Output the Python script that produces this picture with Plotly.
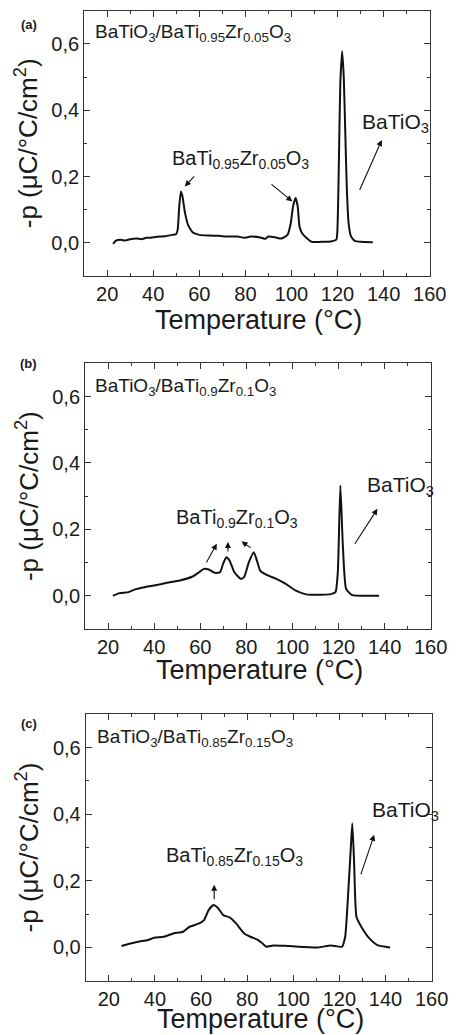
import plotly.graph_objects as go

# ---------------- data ----------------
# Panel (a): BaTiO3/BaTi0.95Zr0.05O3
xa = [22.6, 23.7, 25.8, 27.9, 30.0, 32.8, 34.9, 37.0, 39.7, 42.5, 45.3, 48.1, 49.9,
      50.6, 51.3, 52.0, 52.7, 53.7, 55.1, 57.2, 60.0, 64.2, 68.3, 72.5, 76.7, 79.5,
      82.3, 86.5, 88.6, 90.0, 92.8, 95.5, 98.3, 99.7, 100.7, 101.8, 102.7, 103.5,
      104.6, 106.7, 108.8, 113.0, 117.2, 119.5, 120.0, 120.6, 121.2, 122.0, 122.7,
      123.3, 124.0, 124.8, 125.8, 127.5, 130.0, 135.3]
ya = [-0.003, 0.006, 0.009, 0.007, 0.011, 0.013, 0.011, 0.015, 0.016, 0.019, 0.020,
      0.024, 0.026, 0.039, 0.110, 0.155, 0.140, 0.094, 0.054, 0.031, 0.024, 0.022,
      0.021, 0.019, 0.019, 0.015, 0.019, 0.016, 0.012, 0.019, 0.017, 0.013, 0.024,
      0.059, 0.110, 0.135, 0.110, 0.049, 0.029, 0.014, 0.003, 0.003, 0.004, 0.010,
      0.050, 0.250, 0.480, 0.578, 0.500, 0.350, 0.170, 0.060, 0.020, 0.006, 0.003,
      0.002]

# Panel (b): BaTiO3/BaTi0.9Zr0.1O3
xb = [22.1, 25.0, 28.8, 32.0, 35.8, 40.0, 45.5, 51.1, 56.7, 59.5, 61.6, 63.7, 66.5,
      68.6, 69.9, 71.3, 72.7, 74.8, 77.6, 79.0, 81.1, 83.2, 84.6, 86.0, 88.8, 93.0,
      97.1, 101.3, 105.5, 108.3, 116.7, 118.7, 119.7, 120.8, 121.9, 123.3, 125.7,
      137.6]
yb = [0.000, 0.008, 0.011, 0.020, 0.026, 0.031, 0.039, 0.046, 0.058, 0.071, 0.081,
      0.079, 0.069, 0.071, 0.096, 0.116, 0.106, 0.071, 0.051, 0.056, 0.101, 0.131,
      0.106, 0.076, 0.063, 0.051, 0.036, 0.016, 0.005, 0.003, 0.005, 0.011, 0.071,
      0.332, 0.150, 0.021, 0.003, 0.000]

# Panel (c): BaTiO3/BaTi0.85Zr0.15O3
xc = [25.5, 28.5, 32.7, 36.9, 39.7, 43.8, 48.0, 52.2, 55.0, 59.2, 61.3, 63.3, 65.4,
      67.5, 69.6, 72.4, 75.2, 78.7, 81.4, 84.2, 86.3, 88.4, 91.2, 98.2, 110.7, 116.3,
      121.1, 122.5, 123.9, 124.9, 125.6, 126.4, 127.4, 129.5, 133.0, 136.5, 142.0]
yc = [0.004, 0.010, 0.017, 0.022, 0.029, 0.032, 0.042, 0.047, 0.062, 0.072, 0.082,
      0.112, 0.127, 0.117, 0.097, 0.090, 0.072, 0.042, 0.032, 0.024, 0.014, 0.002,
      0.006, 0.004, 0.000, 0.006, 0.002, 0.032, 0.173, 0.293, 0.373, 0.253, 0.092,
      0.062, 0.027, 0.007, 0.000]

panel_letters = ["(a)", "(b)", "(c)"]
panel_titles = [
    "BaTiO<sub>3</sub>/BaTi<sub>0.95</sub>Zr<sub>0.05</sub>O<sub>3</sub>",
    "BaTiO<sub>3</sub>/BaTi<sub>0.9</sub>Zr<sub>0.1</sub>O<sub>3</sub>",
    "BaTiO<sub>3</sub>/BaTi<sub>0.85</sub>Zr<sub>0.15</sub>O<sub>3</sub>",
]
zr_labels = [
    "BaTi<sub>0.95</sub>Zr<sub>0.05</sub>O<sub>3</sub>",
    "BaTi<sub>0.9</sub>Zr<sub>0.1</sub>O<sub>3</sub>",
    "BaTi<sub>0.85</sub>Zr<sub>0.15</sub>O<sub>3</sub>",
]
bt_label = "BaTiO<sub>3</sub>"
x_title = "Temperature (°C)"
y_title = "-p (μC/°C/cm<sup>2</sup>)"

# label positions (data coords, left edge) and arrows (head x, head y, tail x, tail y)
title_pos = [(13.9, 0.632), (13.5, 0.628), (13.9, 0.630)]
zr_label_pos = [(47.3, 0.252), (48.4, 0.232), (43.9, 0.272)]
bt_label_pos = [(129.6, 0.362), (131.4, 0.330), (133.2, 0.410)]
arrows = [
    [(53.7, 0.170, 58.4, 0.205), (100.4, 0.125, 90.7, 0.180), (139.2, 0.310, 129.3, 0.155)],
    [(67.2, 0.157, 62.3, 0.096), (72.0, 0.162, 72.0, 0.129), (77.9, 0.164, 82.5, 0.141),
     (136.9, 0.262, 126.7, 0.152)],
    [(65.7, 0.188, 65.7, 0.140), (135.1, 0.338, 129.1, 0.215)],
]

xs = [xa, xb, xc]
ys = [ya, yb, yc]

# ---------------- layout geometry ----------------
W, H = 465, 1035
xdoms = [(87.3, 446.0), (88.3, 447.0), (89.0, 448.0)]
ydoms = [(10.7, 276.0), (363.3, 629.0), (714.3, 980.7)]
letter_pos = [(30, 25), (30, 363), (30, 723)]
xtitle_y = [320.0, 669.5, 1018.5]   # pixel centre of the x-axis title

FONT = "Liberation Sans, Arial, sans-serif"
TXT = "#1a1a1a"
AX = "#333333"

fig = go.Figure()
layout = dict(
    width=W, height=H,
    margin=dict(l=0, r=0, t=0, b=0),
    paper_bgcolor="white", plot_bgcolor="white",
    showlegend=False,
    separators=",.",
    font=dict(family=FONT, color=TXT),
)
annotations = []

for i in range(3):
    n = "" if i == 0 else str(i + 1)
    xname, yname = "x" + n, "y" + n
    fig.add_trace(go.Scatter(x=xs[i], y=ys[i], mode="lines",
                             line=dict(color="#111111", width=2, shape="spline", smoothing=0.5),
                             xaxis=xname, yaxis=yname, hoverinfo="skip"))
    x0, x1 = xdoms[i]
    y0, y1 = ydoms[i]
    layout["xaxis" + n] = dict(
        domain=[x0 / W, x1 / W], anchor=yname, range=[10, 160],
        tick0=0, dtick=20, ticks="inside", ticklen=6, tickwidth=1, tickcolor=AX,
        minor=dict(dtick=10, ticks="inside", ticklen=3, tickwidth=1, tickcolor=AX),
        showline=True, linecolor=AX, linewidth=1, mirror="ticks",
        showgrid=False, zeroline=False,
        tickfont=dict(size=20, family=FONT, color=TXT),
    )
    layout["yaxis" + n] = dict(
        domain=[1 - y1 / H, 1 - y0 / H], anchor=xname, range=[-0.1, 0.7],
        tick0=0, dtick=0.2, tickformat=".1f",
        ticks="inside", ticklen=6, tickwidth=1, tickcolor=AX,
        minor=dict(dtick=0.1, ticks="inside", ticklen=3, tickwidth=1, tickcolor=AX),
        showline=True, linecolor=AX, linewidth=1, mirror="ticks",
        showgrid=False, zeroline=False,
        tickfont=dict(size=20, family=FONT, color=TXT),
        title=dict(text=y_title, font=dict(size=26, family=FONT, color=TXT), standoff=6),
    )
    # x-axis title
    annotations.append(dict(text=x_title, xref="paper", yref="paper",
                            x=(x0 + x1) / 2 / W + 0.004, y=1 - xtitle_y[i] / H,
                            xanchor="center", yanchor="middle", showarrow=False,
                            font=dict(size=27, family=FONT, color=TXT)))
    # panel letter
    lx, ly = letter_pos[i]
    annotations.append(dict(text="<b>%s</b>" % panel_letters[i], xref="paper", yref="paper",
                            x=lx / W, y=1 - ly / H, xanchor="center", yanchor="middle",
                            showarrow=False, font=dict(size=13, family=FONT, color=TXT)))
    # panel title
    tx, ty = title_pos[i]
    annotations.append(dict(text=panel_titles[i], xref=xname, yref=yname, x=tx, y=ty,
                            xanchor="left", yanchor="middle", showarrow=False,
                            font=dict(size=19, family=FONT, color=TXT)))
    # Zr phase label
    zx, zy = zr_label_pos[i]
    annotations.append(dict(text=zr_labels[i], xref=xname, yref=yname, x=zx, y=zy,
                            xanchor="left", yanchor="middle", showarrow=False,
                            font=dict(size=20, family=FONT, color=TXT)))
    # BaTiO3 label
    bx, by = bt_label_pos[i]
    annotations.append(dict(text=bt_label, xref=xname, yref=yname, x=bx, y=by,
                            xanchor="left", yanchor="middle", showarrow=False,
                            font=dict(size=21, family=FONT, color=TXT)))
    # arrows
    for hx, hy, tx2, ty2 in arrows[i]:
        annotations.append(dict(text="", xref=xname, yref=yname, x=hx, y=hy,
                                axref=xname, ayref=yname, ax=tx2, ay=ty2,
                                showarrow=True, arrowhead=2, arrowsize=1.1, arrowwidth=1.1,
                                arrowcolor="#111111", standoff=0, startstandoff=0))

layout["annotations"] = annotations
fig.update_layout(**layout)
fig.write_html("out.html")
